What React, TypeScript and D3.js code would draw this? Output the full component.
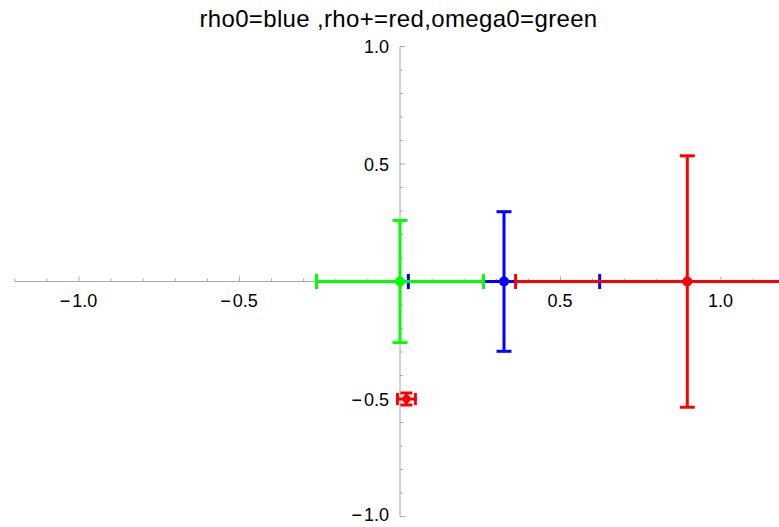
import React from 'react';
import * as d3 from 'd3';

// Measurements with symmetric uncertainties
const pointSeries = ['rho0', 'omega0', 'rho+', 'rho+'];
const pointX = [0.324, 0, 0.895, 0.02];
const pointY = [0, 0, 0, -0.5];
const errX = [0.298, 0.26, 0.535, 0.028];
const errY = [0.297, 0.26, 0.535, 0.0255];

const xTickLabels = [-1.0, -0.5, 0.5, 1.0];
const yTickLabels = [1.0, 0.5, -0.5, -1.0];

const titleText = 'rho0=blue ,rho+=red,omega0=green';

const seriesColor: Record<string, string> = {
  rho0: '#0000ff',
  'rho+': '#ff0000',
  omega0: '#00ff00',
};

const W = 779;
const H = 527;

const x = d3.scaleLinear().domain([-1.2, 1.2]).range([14.8, 785.2]);
const y = d3.scaleLinear().domain([-1, 1]).range([516.5, 46.5]);

const fmt = (v: number) => Math.abs(v).toFixed(1);

function TickLabel({ v, px, py, anchor }: { v: number; px: number; py: number; anchor: 'middle' | 'end' }) {
  return (
    <text x={px} y={py} textAnchor={anchor} fontSize={18} fontFamily="'Liberation Sans', Arial, sans-serif" fill="#000">
      {v < 0 ? (
        <>
          <tspan>−</tspan>
          <tspan dx={2}>{fmt(v)}</tspan>
        </>
      ) : (
        fmt(v)
      )}
    </text>
  );
}

export default function App() {
  const x0 = x(0);
  const y0 = y(0);
  const axisColor = '#a6a6a6';

  const xMinor = d3.range(-12, 13).map((i) => i / 10);
  const yMinor = d3.range(-10, 11).map((i) => i / 10);
  const isMajor = (v: number) => Math.abs(Math.round(v * 10) % 5) === 0;

  // draw order: blue first, then green and red above it
  const order = [0, 1, 2, 3];

  return (
    <svg width={W} height={H} style={{ position: 'absolute', left: 0, top: 0, background: '#fff' }}>
      <text x={398.5} y={27} textAnchor="middle" fontSize={24} fontFamily="'Liberation Sans', Arial, sans-serif" fill="#000" letterSpacing={0.35}>
        {titleText}
      </text>

      {/* axes */}
      <line x1={x(-1.2)} x2={W} y1={y0} y2={y0} stroke={axisColor} strokeWidth={1} />
      <line x1={x0} x2={x0} y1={y(1)} y2={y(-1)} stroke={axisColor} strokeWidth={1} />
      {xMinor.filter((v) => Math.abs(v) > 1e-9).map((v) => (
        <line key={'xt' + v} x1={x(v)} x2={x(v)} y1={y0} y2={y0 - (isMajor(v) ? 5 : 3)} stroke={axisColor} strokeWidth={1} />
      ))}
      {yMinor.filter((v) => Math.abs(v) > 1e-9).map((v) => (
        <line key={'yt' + v} x1={x0} x2={x0 + (isMajor(v) ? 5 : 3)} y1={y(v)} y2={y(v)} stroke={axisColor} strokeWidth={1} />
      ))}
      {xTickLabels.map((v) => (
        <TickLabel key={'xl' + v} v={v} px={x(v) - 0.5} py={y0 + 25} anchor="middle" />
      ))}
      {yTickLabels.map((v) => (
        <TickLabel key={'yl' + v} v={v} px={389} py={Math.min(y(v) + 6.5, 521)} anchor="end" />
      ))}

      {/* error bars */}
      {order.map((i) => {
        const c = seriesColor[pointSeries[i]];
        const cx = x(pointX[i]);
        const cy = y(pointY[i]);
        const ex = x(pointX[i] + errX[i]) - cx;
        const ey = cy - y(pointY[i] + errY[i]);
        const cap = Math.min(7.5, Math.max(ex, ey) * 0.67);
        const r = Math.max(ex, ey) < 20 ? 4 : 5;
        return (
          <g key={'p' + i} stroke={c} strokeWidth={3} fill="none">
            <line x1={cx - ex} x2={Math.min(cx + ex, W + 10)} y1={cy} y2={cy} />
            <line x1={cx} x2={cx} y1={cy - ey} y2={cy + ey} />
            <line x1={cx - ex} x2={cx - ex} y1={cy - cap} y2={cy + cap} />
            <line x1={cx + ex} x2={cx + ex} y1={cy - cap} y2={cy + cap} />
            <line x1={cx - cap} x2={cx + cap} y1={cy - ey} y2={cy - ey} />
            <line x1={cx - cap} x2={cx + cap} y1={cy + ey} y2={cy + ey} />
            <circle cx={cx} cy={cy} r={r} fill={c} stroke="none" />
          </g>
        );
      })}
    </svg>
  );
}
